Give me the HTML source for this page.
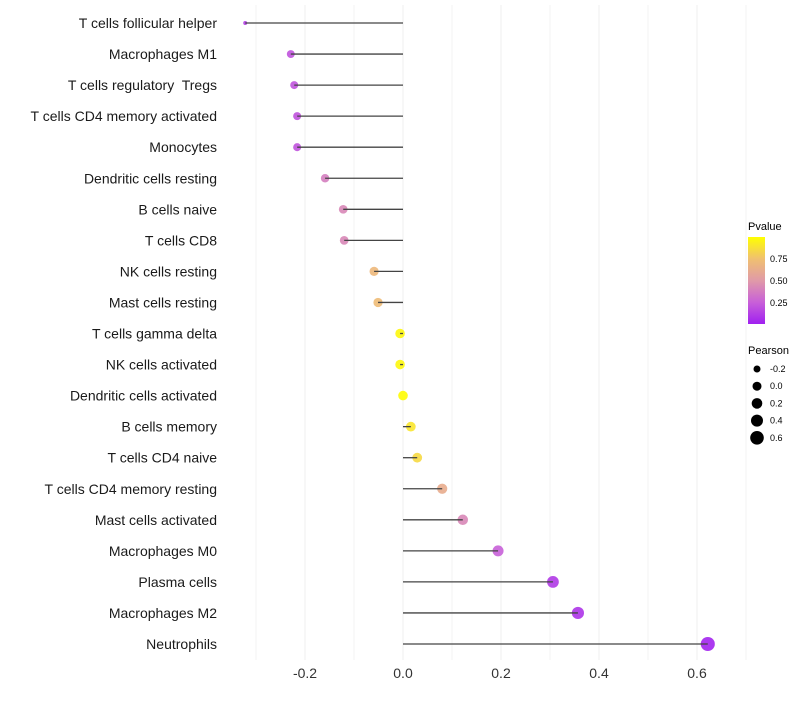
<!DOCTYPE html>
<html><head><meta charset="utf-8"><style>
body{margin:0;background:#fff;font-family:"Liberation Sans",sans-serif}
</style></head><body>
<svg id="chart" width="800" height="700" xmlns="http://www.w3.org/2000/svg">
<defs><linearGradient id="pg" x1="0" y1="1" x2="0" y2="0">
<stop offset="0" stop-color="#a020f0"/><stop offset="0.25" stop-color="#c860d8"/>
<stop offset="0.5" stop-color="#e09aa8"/><stop offset="0.75" stop-color="#f0c070"/>
<stop offset="1" stop-color="#ffff00"/></linearGradient></defs>
<g id="grid"></g><g id="dots"></g><g id="stems"></g><g id="labels"></g>
<g>
<text x="748" y="230" font-size="11" fill="#000">Pvalue</text>
<rect x="748" y="237" width="17" height="87" fill="url(#pg)"/>
<text x="770" y="262" font-size="9">0.75</text>
<text x="770" y="284" font-size="9">0.50</text>
<text x="770" y="306" font-size="9">0.25</text>
</g>
<g id="sizeleg">
<text x="748" y="354" font-size="11">Pearson</text>
</g>
</svg>
<script>
const categories=["T cells follicular helper","Macrophages M1","T cells regulatory  Tregs","T cells CD4 memory activated","Monocytes","Dendritic cells resting","B cells naive","T cells CD8","NK cells resting","Mast cells resting","T cells gamma delta","NK cells activated","Dendritic cells activated","B cells memory","T cells CD4 naive","T cells CD4 memory resting","Mast cells activated","Macrophages M0","Plasma cells","Macrophages M2","Neutrophils"];
const pearson=[-0.322,-0.229,-0.222,-0.216,-0.216,-0.159,-0.122,-0.120,-0.059,-0.051,-0.006,-0.006,0.0,0.016,0.029,0.080,0.122,0.194,0.306,0.357,0.622];
const pvalue=[0.12,0.2,0.2,0.2,0.2,0.38,0.42,0.42,0.7,0.72,0.97,0.97,0.99,0.9,0.85,0.62,0.42,0.25,0.1,0.08,0.02];
const xTicks=[-0.2,0,0.2,0.4,0.6];
const xTickLabels=["-0.2","0.0","0.2","0.4","0.6"];
const sizeLegend=[-0.2,0,0.2,0.4,0.6];
const NS="http://www.w3.org/2000/svg";
const x=v=>403+v*490;
const y=i=>23+i*31.05;
const r=v=>v<-0.25?Math.max(1.8,2+(v+0.322)*20):4.8+3.6*v;
function col(p){const st=[[0,[160,32,240]],[0.25,[200,96,216]],[0.5,[224,154,168]],[0.75,[240,192,112]],[1,[255,255,0]]];
for(let k=1;k<st.length;k++){if(p<=st[k][0]){const a=st[k-1],b=st[k],t=(p-a[0])/(b[0]-a[0]);return `rgb(${a[1].map((c,j)=>Math.round(c+(b[1][j]-c)*t)).join(',')})`;}}return 'rgb(255,255,0)';}
function mk(t,at,parent){const e=document.createElementNS(NS,t);for(const k in at)e.setAttribute(k,at[k]);parent.appendChild(e);return e;}
const grid=document.getElementById('grid'),dots=document.getElementById('dots'),stems=document.getElementById('stems'),labels=document.getElementById('labels');
for(let k=-3;k<=7;k++){const v=k/10;const g=mk('line',{x1:x(v),x2:x(v),y1:5,y2:660,stroke:'#f0f0f0','stroke-width':Math.abs(k)%2===0?1.1:0.8},grid);

}
xTicks.forEach((v,i)=>{const t=mk('text',{x:x(v),y:678,'font-size':14,'text-anchor':'middle',fill:'#333'},labels);t.textContent=xTickLabels[i];

});
categories.forEach((c,i)=>{
const t=mk('text',{x:217,y:y(i)+5,'font-size':14,'text-anchor':'end',fill:'#1a1a1a','xml:space':'preserve'},labels);t.textContent=c;
t.style.whiteSpace='pre';


const d=mk('circle',{cx:x(pearson[i]),cy:y(i),r:r(pearson[i]),fill:col(pvalue[i]),'fill-opacity':0.9},dots);


const l=mk('line',{x1:x(0),x2:x(pearson[i]),y1:y(i),y2:y(i),stroke:'#444','stroke-width':1.3},stems);


});
const sl=document.getElementById('sizeleg');
const legR=[3.5,4.5,5.3,6,6.8];
sizeLegend.forEach((v,i)=>{const cy=369+i*17.2;
const c=mk('circle',{cx:757,cy:cy,r:legR[i],fill:'#000'},sl);


const t=mk('text',{x:770,y:cy+3,'font-size':9},sl);t.textContent=v===0?'0.0':String(v);

});
</script>
</body></html>
